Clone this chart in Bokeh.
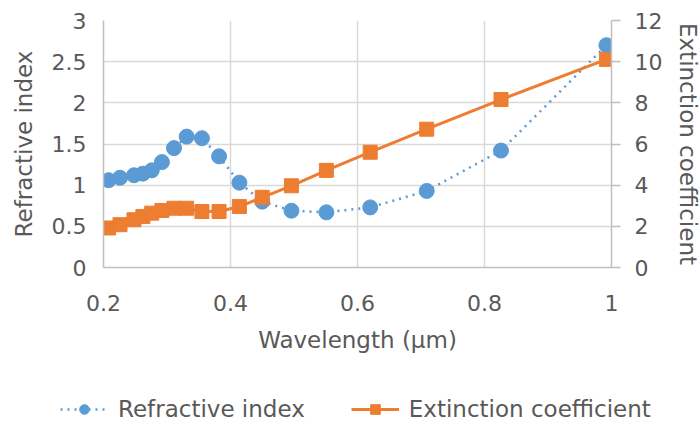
from bokeh.plotting import figure
from bokeh.models import (Range1d, LinearAxis, FixedTicker, CustomJSTickFormatter,
                          Legend, LegendItem, ColumnDataSource)
from bokeh.embed import file_html
from bokeh.resources import INLINE

# ---- data ----
wavelength = [0.208, 0.226, 0.248, 0.262, 0.276, 0.292, 0.311, 0.331, 0.355,
              0.382, 0.414, 0.450, 0.496, 0.551, 0.620, 0.709, 0.826, 0.992]
refractive_index = [1.06, 1.09, 1.12, 1.14, 1.18, 1.28, 1.45, 1.59, 1.57,
                    1.35, 1.03, 0.80, 0.69, 0.67, 0.73, 0.93, 1.42, 2.70]
extinction = [1.92, 2.08, 2.32, 2.48, 2.64, 2.77, 2.88, 2.88, 2.72,
              2.72, 2.96, 3.41, 3.97, 4.72, 5.60, 6.72, 8.16, 10.11]
x_ticks = [0.2, 0.4, 0.6, 0.8, 1.0]
n_ticks = [0, 0.5, 1, 1.5, 2, 2.5, 3]
k_ticks = [0, 2, 4, 6, 8, 10, 12]
series_labels = ["Refractive index", "Extinction coefficient"]

BLUE = "#5B9BD5"
ORANGE = "#ED7D31"
GRID = "#D9D9D9"
TEXT = "#595959"
FONT = "DejaVu Sans"

p = figure(frame_width=508, frame_height=247, width=700, height=360,
           x_range=Range1d(0.2, 1.0), y_range=Range1d(0, 3),
           output_backend="svg", toolbar_location=None,
           min_border_left=103, min_border_right=89,
           min_border_top=20, min_border_bottom=93)
p.extra_y_ranges = {"k": Range1d(0, 12)}
p.outline_line_color = None
p.background_fill_color = "white"

fmt = CustomJSTickFormatter(code="return Number(tick.toFixed(2)).toString();")

def style_axis(ax):
    ax.major_label_text_font = FONT
    ax.major_label_text_font_size = "22px"
    ax.major_label_text_color = TEXT
    ax.axis_label_text_font = FONT
    ax.axis_label_text_font_size = "23px"
    ax.axis_label_text_color = TEXT
    ax.axis_label_text_font_style = "normal"
    ax.axis_line_color = "#BFBFBF"
    ax.axis_line_width = 1.5
    ax.minor_tick_line_color = None
    ax.formatter = fmt

xa = p.xaxis[0]
style_axis(xa)
xa.ticker = FixedTicker(ticks=x_ticks)
xa.axis_label = "Wavelength (μm)"
xa.major_tick_line_color = None
xa.major_label_standoff = 21
xa.axis_label_standoff = 13

ya = p.yaxis[0]
style_axis(ya)
ya.ticker = FixedTicker(ticks=n_ticks)
ya.axis_label = "Refractive index"
ya.major_tick_line_color = None
ya.major_label_standoff = 11
ya.axis_label_standoff = 12

ra = LinearAxis(y_range_name="k", ticker=FixedTicker(ticks=k_ticks),
                axis_label="Extinction coefficient")
style_axis(ra)
ra.major_tick_out = 9
ra.major_tick_in = 0
ra.major_tick_line_color = "#BFBFBF"
ra.major_tick_line_width = 1.5
ra.major_label_standoff = 14
ra.axis_label_standoff = 10
p.add_layout(ra, "right")

p.xgrid.ticker = FixedTicker(ticks=x_ticks)
p.xgrid.grid_line_color = GRID
p.xgrid.grid_line_width = 1.5
p.ygrid.ticker = FixedTicker(ticks=n_ticks)
p.ygrid.grid_line_color = GRID
p.ygrid.grid_line_width = 1.5

src = ColumnDataSource(dict(x=wavelength, n=refractive_index, k=extinction))

line_n = dict(line_color=BLUE, line_width=2.5, line_dash="2 5")
mark_n = dict(marker="circle", size=15, fill_color=BLUE, line_color=BLUE)
line_k = dict(line_color=ORANGE, line_width=3)
mark_k = dict(marker="square", size=14, fill_color=ORANGE, line_color=ORANGE)

p.line("x", "n", source=src, **line_n)
p.scatter("x", "n", source=src, **mark_n)
p.line("x", "k", source=src, y_range_name="k", **line_k)
p.scatter("x", "k", source=src, y_range_name="k", **mark_k)

# ---- legend strip: a second root whose frame holds only the legend ----
# its ranges are far from the data, so the series themselves stay out of view
q = figure(width=700, height=67, x_range=Range1d(10, 11), y_range=Range1d(10, 11),
           output_backend="svg", toolbar_location=None,
           x_axis_type=None, y_axis_type=None,
           min_border_left=0, min_border_right=0, min_border_top=0, min_border_bottom=0)
q.outline_line_color = None
q.xgrid.visible = False
q.ygrid.visible = False
ql1 = q.line("x", "n", source=src, **line_n)
qm1 = q.scatter("x", "n", source=src, **mark_n)
ql2 = q.line("x", "k", source=src, **line_k)
qm2 = q.scatter("x", "k", source=src, **mark_k)

legend = Legend(items=[LegendItem(label=series_labels[0], renderers=[ql1, qm1]),
                       LegendItem(label=series_labels[1], renderers=[ql2, qm2])],
                orientation="horizontal", location=(60, 5),
                label_text_font=FONT, label_text_font_size="23px",
                label_text_color=TEXT, glyph_width=48, glyph_height=24,
                label_standoff=10, spacing=46, padding=0, margin=0,
                border_line_color=None, background_fill_alpha=0)
q.add_layout(legend, "center")

open("out.html", "w").write(file_html([p, q], INLINE))
